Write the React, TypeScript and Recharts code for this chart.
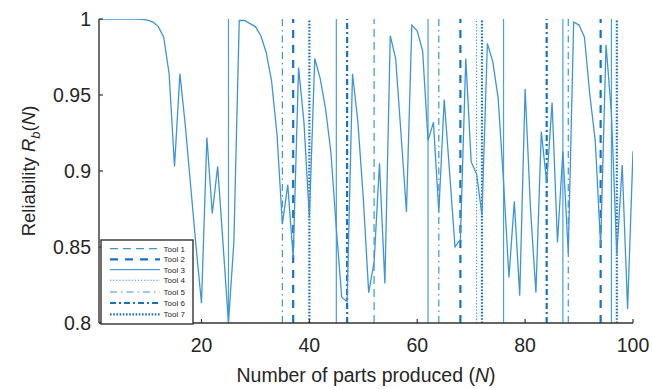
import React from "react";
import { LineChart, Line, XAxis, YAxis, ReferenceLine, Label } from "recharts";

// Reliability R_b(N) for N = 1..100
const reliability: number[] = [
  1.0, 1.0, 1.0, 1.0, 1.0, 1.0, 1.0, 1.0, 0.9998, 0.9993,
  0.998, 0.995, 0.988, 0.964, 0.903, 0.964, 0.93, 0.89, 0.85, 0.813,
  0.922, 0.872, 0.903, 0.852, 0.8, 0.853, 0.999, 0.999, 0.997, 0.995,
  0.989, 0.978, 0.959, 0.924, 0.865, 0.891, 0.843, 0.968, 0.932, 0.869,
  0.974, 0.961, 0.941, 0.912, 0.862, 0.817, 0.814, 0.964, 0.932, 0.882,
  0.82, 0.84, 0.905, 0.826, 0.989, 0.974, 0.924, 0.873, 0.996, 0.992,
  0.979, 0.92, 0.932, 0.873, 0.947, 0.899, 0.85, 0.855, 0.974, 0.906,
  0.898, 0.871, 0.984, 0.972, 0.948, 0.893, 0.83, 0.88, 0.818, 0.954,
  0.875, 0.82, 0.926, 0.892, 0.945, 0.853, 0.913, 0.846, 0.998, 0.996,
  0.988, 0.95, 0.92, 0.851, 0.983, 0.938, 0.845, 0.904, 0.809, 0.913,
];

const tool1 = [52];
const tool2 = [37, 68, 94];
const tool3 = [25, 45, 62, 76, 87, 96];
const tool4 = [71];
const tool5 = [35, 64, 88];
const tool6 = [47, 84];
const tool7 = [40, 72, 97];

const toolNames = ["Tool 1", "Tool 2", "Tool 3", "Tool 4", "Tool 5", "Tool 6", "Tool 7"];
const toolPositions = [tool1, tool2, tool3, tool4, tool5, tool6, tool7];

const xTicks = [20, 40, 60, 80, 100];
const yTicks = [0.8, 0.85, 0.9, 0.95, 1];

const LIGHT = "#3d95d8";
const DARK = "#1673c4";

const toolStyles = [
  { stroke: LIGHT, width: 1.2, dash: "8 5" },
  { stroke: DARK, width: 2.2, dash: "8 7" },
  { stroke: "#4a9fe0", width: 1.2, dash: undefined as string | undefined },
  { stroke: LIGHT, width: 1.1, dash: "1.3 1.8" },
  { stroke: LIGHT, width: 1.2, dash: "7 4 1.5 4" },
  { stroke: DARK, width: 2.2, dash: "6 3 2 3" },
  { stroke: DARK, width: 2.2, dash: "1.6 1.6" },
];

const data = reliability.map((r, i) => ({ n: i + 1, r }));

const FONT = "'Liberation Sans', Arial, Helvetica, sans-serif";
const TEXT = "#262626";
const AXIS = "#333333";
const FS = 19.5;

const X_MARGIN = 15;
const Y_MARGIN = 8;

const XTick = (props: any) => {
  const { x, y, payload } = props;
  const ay = y - X_MARGIN;
  return (
    <g>
      <line x1={x} x2={x} y1={ay} y2={ay - 4} stroke={AXIS} strokeWidth={1.2} />
      <text x={x} y={y} dy="0.71em" textAnchor="middle" fontSize={FS} fontFamily={FONT} fill={TEXT}>
        {String(payload.value)}
      </text>
    </g>
  );
};

const YTick = (props: any) => {
  const { x, y, payload } = props;
  const ax = x + Y_MARGIN;
  return (
    <g>
      <line x1={ax} x2={ax + 4} y1={y} y2={y} stroke={AXIS} strokeWidth={1.2} />
      <text x={x} y={y} dy="0.355em" textAnchor="end" fontSize={FS} fontFamily={FONT} fill={TEXT}>
        {String(payload.value)}
      </text>
    </g>
  );
};

const XLabel = (props: any) => {
  const vb = props.viewBox || {};
  const cx = vb.x + vb.width / 2;
  return (
    <text x={cx} y={382} textAnchor="middle" fontSize={FS} fontFamily={FONT} fill={TEXT}>
      Number of parts produced (<tspan fontStyle="italic">N</tspan>)
    </text>
  );
};

const YLabel = (props: any) => {
  const vb = props.viewBox || {};
  const cy = vb.y + vb.height / 2;
  const x = 35;
  return (
    <text
      x={x}
      y={cy}
      transform={`rotate(-90 ${x} ${cy})`}
      textAnchor="middle"
      fontSize={18.5}
      fontFamily={FONT}
      fill={TEXT}
    >
      Reliability <tspan fontStyle="italic">R</tspan>
      <tspan fontStyle="italic" fontSize={13} dy={5}>b</tspan>
      <tspan dy={-5}>(</tspan>
      <tspan fontStyle="italic">N</tspan>
      <tspan>)</tspan>
    </text>
  );
};

const LegendBox = () => {
  const rows = [9.7, 20.3, 30.7, 41.3, 53, 64, 75.3];
  return (
    <svg
      width={94}
      height={86}
      style={{ position: "absolute", left: 100, top: 239, overflow: "visible" }}
    >
      <rect x={1} y={1} width={92} height={84} fill="#ffffff" stroke={AXIS} strokeWidth={1.4} />
      {toolNames.map((name, i) => (
        <g key={name}>
          <line
            x1={10}
            x2={60}
            y1={rows[i]}
            y2={rows[i]}
            stroke={toolStyles[i].stroke}
            strokeWidth={toolStyles[i].width}
            strokeDasharray={toolStyles[i].dash}
          />
          <text
            x={63.5}
            y={rows[i]}
            dy="0.35em"
            fontSize={8}
            fontFamily={FONT}
            fill={TEXT}
          >
            {name}
          </text>
        </g>
      ))}
    </svg>
  );
};

export default function App() {
  return (
    <div style={{ position: "absolute", left: 0, top: 0, width: 652, height: 389, background: "#fff" }}>
      <LineChart
        width={652}
        height={389}
        data={data}
        margin={{ top: 19, right: 19, bottom: 36, left: 39 }}
      >
        <XAxis
          dataKey="n"
          type="number"
          domain={[1, 100]}
          ticks={xTicks}
          allowDataOverflow
          height={30}
          tickSize={0}
          tickMargin={X_MARGIN}
          tick={<XTick />}
          axisLine={{ stroke: AXIS, strokeWidth: 1.4 }}
          tickLine={false}
        >
          <Label content={<XLabel />} />
        </XAxis>
        <YAxis
          type="number"
          domain={[0.8, 1]}
          ticks={yTicks}
          allowDataOverflow
          width={60}
          tickSize={0}
          tickMargin={Y_MARGIN}
          tick={<YTick />}
          axisLine={{ stroke: AXIS, strokeWidth: 1.4 }}
          tickLine={false}
        >
          <Label content={<YLabel />} />
        </YAxis>
        {toolPositions.map((positions, ti) =>
          positions.map((p) => (
            <ReferenceLine
              key={`t${ti}-${p}`}
              x={p}
              stroke={toolStyles[ti].stroke}
              strokeWidth={toolStyles[ti].width}
              strokeDasharray={toolStyles[ti].dash}
              ifOverflow="extendDomain"
            />
          ))
        )}
        <Line
          type="linear"
          dataKey="r"
          stroke="#3d95d8"
          strokeWidth={1.3}
          dot={false}
          isAnimationActive={false}
        />
      </LineChart>
      <LegendBox />
    </div>
  );
}
